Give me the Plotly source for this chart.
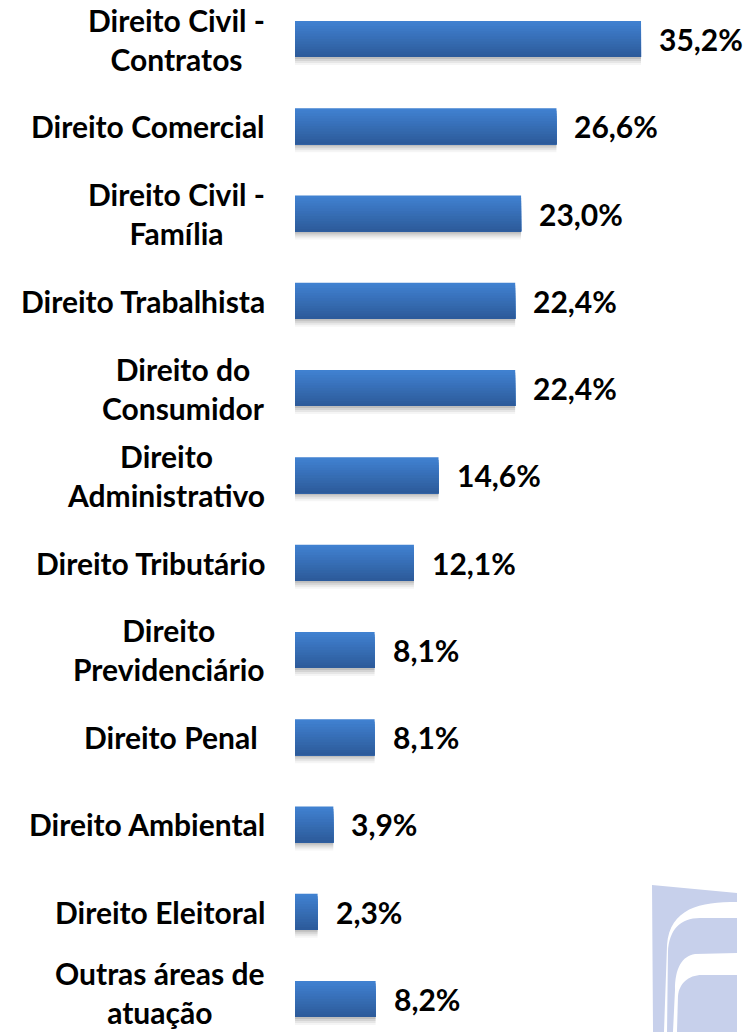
import plotly.graph_objects as go

# data
areas = [
    "Direito Civil - Contratos", "Direito Comercial", "Direito Civil - Família",
    "Direito Trabalhista", "Direito do Consumidor", "Direito Administrativo",
    "Direito Tributário", "Direito Previdenciário", "Direito Penal",
    "Direito Ambiental", "Direito Eleitoral", "Outras áreas de atuação",
]
area_labels = [
    "Direito Civil -<br>Contratos", "Direito Comercial", "Direito Civil -<br>Família",
    "Direito Trabalhista", "Direito do<br>Consumidor", "Direito<br>Administrativo",
    "Direito Tributário", "Direito<br>Previdenciário", "Direito Penal\u00a0",
    "Direito Ambiental", "Direito Eleitoral", "Outras áreas de<br>atuação",
]
shares = [35.2, 26.6, 23.0, 22.4, 22.4, 14.6, 12.1, 8.1, 8.1, 3.9, 2.3, 8.2]

W, H = 754, 1032
LEFT = 295
PX = 87.27            # pixels per category step
bar_h = 36 / PX       # bar thickness in category units
FONT = dict(family="Lato, 'Open Sans', sans-serif", size=30, color="black", weight=700)


def hex_mix(c1, c2, t):
    return "rgb({},{},{})".format(*[round(a + (b - a) * t) for a, b in zip(c1, c2)])


fig = go.Figure()

# soft drop shadow below each bar
for k, a in [(2, 0.10), (4, 0.08), (6, 0.06), (8, 0.04)]:
    fig.add_trace(go.Bar(
        y=areas, x=shares, orientation="h",
        width=bar_h, offset=-bar_h / 2 + k / PX,
        marker=dict(color=f"rgba(0,0,0,{a})", line_width=0),
        hoverinfo="skip", showlegend=False,
    ))

# vertical gradient: each layer runs from its top edge to the bar bottom
n = 14
top_c, bot_c = (64, 129, 208), (45, 91, 155)
for i in range(n):
    fig.add_trace(go.Bar(
        y=areas, x=shares, orientation="h",
        width=bar_h * (n - i) / n, offset=-bar_h / 2 + i * bar_h / n,
        marker=dict(color=hex_mix(top_c, bot_c, i / (n - 1)), line_width=0),
        hoverinfo="skip", showlegend=False,
    ))

annotations = []
for j, (name, lab, v) in enumerate(zip(areas, area_labels, shares)):
    annotations.append(dict(
        x=0, y=name, xref="paper", yref="y", text=lab, showarrow=False,
        xanchor="right", yanchor="middle", align="center", xshift=-28,
        yshift=7 if j == len(areas) - 1 else 0, font=FONT,
    ))
    annotations.append(dict(
        x=v, y=name, xref="x", yref="y", text=f"{v:.1f}".replace(".", ",") + "%",
        showarrow=False, xanchor="left", yanchor="middle", xshift=16, font=FONT,
    ))


# decorative logo in the lower right corner (pixel coords -> paper coords)
def path(cmds):
    out = []
    for c in cmds:
        if isinstance(c, str):
            out.append(c)
        else:
            px, py = c
            out.append(f"{(px - LEFT) / (W - LEFT):.4f},{1 - py / H:.4f}")
    return " ".join(out)


logo = [
    ["M", (652, 885), "L", (737, 893), "L", (737, 902), "C", (700, 902), (670, 908), (667, 945),
     "L", (664, 1032), "L", (653, 1032), "Z"],
    ["M", (667, 1032), "L", (668, 952), "C", (669, 930), (680, 918), (700, 918), "L", (737, 918),
     "L", (737, 953), "L", (695, 954), "C", (682, 956), (675, 968), (675, 990), "L", (673, 1032), "Z"],
    ["M", (677, 1032), "L", (678, 996), "C", (679, 984), (688, 975), (702, 975), "L", (737, 975),
     "L", (737, 1032), "Z"],
]
shapes = [dict(type="path", xref="paper", yref="paper", path=path(p),
               fillcolor="#C7D0EB", line=dict(width=0), layer="below") for p in logo]

fig.update_layout(
    width=W, height=H,
    margin=dict(l=LEFT, r=0, t=0, b=0),
    paper_bgcolor="white", plot_bgcolor="white",
    barmode="overlay",
    xaxis=dict(range=[0, (W - LEFT) / 9.83], visible=False, fixedrange=True),
    yaxis=dict(type="category", categoryorder="array", categoryarray=areas,
               range=[11 + 33 / PX, -39 / PX], visible=False, fixedrange=True),
    annotations=annotations,
    shapes=shapes,
    showlegend=False,
)

fig.write_html("out.html", config={"displayModeBar": False},
               post_script="document.body.style.margin='0';document.body.style.overflow='hidden';")
